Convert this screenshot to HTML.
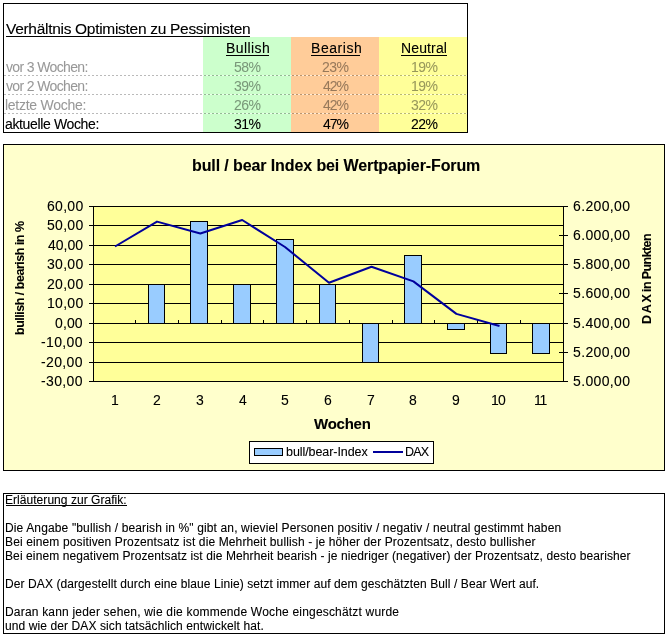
<!DOCTYPE html>
<html>
<head>
<meta charset="utf-8">
<title>bull / bear Index</title>
<style>
html,body{margin:0;padding:0;background:#fff;}
body{width:669px;height:637px;position:relative;overflow:hidden;font-family:"Liberation Sans",Arial,sans-serif;}
svg{position:absolute;left:0;top:0;display:block;}
</style>
</head>
<body>
<svg width="669" height="637" viewBox="0 0 669 637" font-family="Liberation Sans, Arial, sans-serif">
<defs>
<pattern id="dash" x="0" y="0" width="4" height="1" patternUnits="userSpaceOnUse">
<rect x="0" y="0" width="2" height="1" fill="#000" fill-opacity="0.27"/><rect x="2" y="0" width="2" height="1" fill="#fff" fill-opacity="0.6"/>
</pattern>
<filter id="crisp" color-interpolation-filters="sRGB">
<feComponentTransfer><feFuncA type="gamma" amplitude="1" exponent="0.8" offset="0"/></feComponentTransfer>
</filter>
</defs>
<!-- Verhaeltnis table -->
<g shape-rendering="crispEdges">
<rect x="203" y="37" width="88" height="95" fill="#ccffcc"/>
<rect x="291" y="37" width="88" height="95" fill="#ffcc99"/>
<rect x="379" y="37" width="88" height="95" fill="#ffff99"/>
<rect x="4" y="75" width="463" height="1" fill="url(#dash)"/>
<rect x="4" y="94" width="463" height="1" fill="url(#dash)"/>
<rect x="4" y="113" width="463" height="1" fill="url(#dash)"/>
<rect x="3.5" y="3.5" width="464" height="129" fill="none" stroke="#000" stroke-width="1"/>
<rect x="6" y="36" width="244" height="1" fill="#000"/>
<rect x="226" y="55" width="43" height="1" fill="#000"/>
<rect x="311" y="55" width="49" height="1" fill="#000"/>
<rect x="401" y="55" width="46" height="1" fill="#000"/>
</g>
<!-- chart -->
<g shape-rendering="crispEdges">
<rect x="3.5" y="144.5" width="661" height="326" fill="#ffffcc" stroke="#000" stroke-width="1"/>
<rect x="93" y="206" width="470" height="175" fill="#ffff99"/>
</g>
<g stroke="#000" stroke-width="1" shape-rendering="crispEdges">
<line x1="89" y1="206.5" x2="568" y2="206.5"/>
<line x1="89" y1="225.5" x2="564" y2="225.5"/>
<line x1="89" y1="245.5" x2="564" y2="245.5"/>
<line x1="89" y1="264.5" x2="564" y2="264.5"/>
<line x1="89" y1="284.5" x2="564" y2="284.5"/>
<line x1="89" y1="303.5" x2="564" y2="303.5"/>
<line x1="89" y1="323.5" x2="564" y2="323.5"/>
<line x1="89" y1="342.5" x2="564" y2="342.5"/>
<line x1="89" y1="362.5" x2="564" y2="362.5"/>
<line x1="89" y1="381.5" x2="568" y2="381.5"/>
<line x1="93.5" y1="206" x2="93.5" y2="382"/>
<line x1="563.5" y1="206" x2="563.5" y2="382"/>
<line x1="559" y1="235.5" x2="568" y2="235.5"/>
<line x1="559" y1="264.5" x2="568" y2="264.5"/>
<line x1="559" y1="293.5" x2="568" y2="293.5"/>
<line x1="559" y1="323.5" x2="568" y2="323.5"/>
<line x1="559" y1="352.5" x2="568" y2="352.5"/>
</g>
<g fill="#99ccff" stroke="#000" stroke-width="1" shape-rendering="crispEdges">
<rect x="148.5" y="284.5" width="16" height="39"/>
<rect x="190.5" y="221.5" width="17" height="102"/>
<rect x="233.5" y="284.5" width="17" height="39"/>
<rect x="276.5" y="239.5" width="17" height="84"/>
<rect x="319.5" y="284.5" width="16" height="39"/>
<rect x="362.5" y="323.5" width="16" height="39"/>
<rect x="404.5" y="255.5" width="17" height="68"/>
<rect x="447.5" y="323.5" width="17" height="6"/>
<rect x="490.5" y="323.5" width="16" height="30"/>
<rect x="532.5" y="323.5" width="17" height="30"/>
</g>
<g stroke="#000" stroke-width="1" shape-rendering="crispEdges">
<line x1="135.5" y1="320" x2="135.5" y2="323"/>
<line x1="178.5" y1="320" x2="178.5" y2="323"/>
<line x1="221.5" y1="320" x2="221.5" y2="323"/>
<line x1="263.5" y1="320" x2="263.5" y2="323"/>
<line x1="306.5" y1="320" x2="306.5" y2="323"/>
<line x1="349.5" y1="320" x2="349.5" y2="323"/>
<line x1="392.5" y1="320" x2="392.5" y2="323"/>
<line x1="434.5" y1="320" x2="434.5" y2="323"/>
<line x1="477.5" y1="320" x2="477.5" y2="323"/>
<line x1="520.5" y1="320" x2="520.5" y2="323"/>
</g>
<polyline fill="none" stroke="#00009c" stroke-width="2" stroke-linejoin="round" points="115,246.5 157,221.6 200.3,233.5 242.2,220 285,247 329,282.8 371.5,266.8 413.4,281.4 456.4,313.9 499.5,326"/>
<g shape-rendering="crispEdges">
<rect x="249.5" y="441.5" width="184" height="22" fill="#fff" stroke="#000" stroke-width="1"/>
<rect x="254.5" y="448.5" width="28" height="7" fill="#99ccff" stroke="#000" stroke-width="1"/>
</g>
<line x1="373" y1="452" x2="403" y2="452" stroke="#00009c" stroke-width="2"/>
<!-- text box -->
<g shape-rendering="crispEdges">
<rect x="3.5" y="493.5" width="661" height="140" fill="none" stroke="#000" stroke-width="1"/>
<rect x="6" y="505" width="121" height="1" fill="#000"/>
</g>
<g filter="url(#crisp)">
<text x="6" y="34" font-size="15.5" fill="#000" letter-spacing="-0.297">Verhältnis Optimisten zu Pessimisten</text>
<text x="226" y="53" font-size="14" fill="#000" letter-spacing="0.405">Bullish</text>
<text x="311" y="53" font-size="14" fill="#000" letter-spacing="0.540">Bearish</text>
<text x="401" y="53" font-size="14" fill="#000" letter-spacing="0.135">Neutral</text>
<text x="6" y="72" font-size="14" fill-opacity="0.33" fill="#000" letter-spacing="-0.638">vor 3 Wochen:</text>
<text x="6" y="91" font-size="14" fill-opacity="0.33" fill="#000" letter-spacing="-0.638">vor 2 Wochen:</text>
<text x="5" y="110" font-size="14" fill-opacity="0.33" fill="#000" letter-spacing="-0.267">letzte Woche:</text>
<text x="5" y="129" font-size="14" fill="#000" letter-spacing="-0.357">aktuelle Woche:</text>
<text x="234" y="72" font-size="14" fill-opacity="0.33" fill="#000" letter-spacing="-0.500">58%</text>
<text x="322" y="72" font-size="14" fill-opacity="0.33" fill="#000" letter-spacing="-0.500">23%</text>
<text x="411" y="72" font-size="14" fill-opacity="0.33" fill="#000" letter-spacing="-0.500">19%</text>
<text x="234" y="91" font-size="14" fill-opacity="0.33" fill="#000" letter-spacing="-0.500">39%</text>
<text x="323" y="91" font-size="14" fill-opacity="0.33" fill="#000" letter-spacing="-1.000">42%</text>
<text x="411" y="91" font-size="14" fill-opacity="0.33" fill="#000" letter-spacing="-0.500">19%</text>
<text x="234" y="110" font-size="14" fill-opacity="0.33" fill="#000" letter-spacing="-0.500">26%</text>
<text x="323" y="110" font-size="14" fill-opacity="0.33" fill="#000" letter-spacing="-1.000">42%</text>
<text x="411" y="110" font-size="14" fill-opacity="0.33" fill="#000" letter-spacing="-0.500">32%</text>
<text x="234" y="129" font-size="14" fill="#000" letter-spacing="-0.500">31%</text>
<text x="323" y="129" font-size="14" fill="#000" letter-spacing="-1.000">47%</text>
<text x="411" y="129" font-size="14" fill="#000" letter-spacing="-0.500">22%</text>
<text x="192" y="171" font-size="16" font-weight="bold" fill="#000" letter-spacing="-0.104">bull / bear Index bei Wertpapier-Forum</text>
<text x="314" y="429" font-size="15" font-weight="bold" fill="#000" letter-spacing="-0.242">Wochen</text>
<text transform="translate(24,335) rotate(-90)" font-size="12.5" font-weight="bold" fill="#000" letter-spacing="-0.486">bullish / bearish in %</text>
<text transform="translate(650.5,324) rotate(-90)" font-size="12.5" font-weight="bold" fill="#000" letter-spacing="1.707">DAX</text>
<text transform="translate(650.5,292) rotate(-90)" font-size="12.5" font-weight="bold" fill="#000" letter-spacing="-0.588">in Punkten</text>
<text x="286" y="456" font-size="12.5" fill="#000" letter-spacing="-0.071">bull/bear-Index</text>
<text x="405" y="456" font-size="12.5" fill="#000" letter-spacing="-0.810">DAX</text>
<text x="47" y="211" font-size="14" fill="#000" letter-spacing="0.303">60,00</text>
<text x="47" y="230" font-size="14" fill="#000" letter-spacing="0.303">50,00</text>
<text x="48" y="250" font-size="14" fill="#000" letter-spacing="0.025">40,00</text>
<text x="47" y="269" font-size="14" fill="#000" letter-spacing="0.303">30,00</text>
<text x="47" y="289" font-size="14" fill="#000" letter-spacing="0.303">20,00</text>
<text x="47" y="308" font-size="14" fill="#000" letter-spacing="0.303">10,00</text>
<text x="55" y="328" font-size="14" fill="#000" letter-spacing="0.100">0,00</text>
<text x="41" y="347" font-size="14" fill="#000" letter-spacing="0.361">-10,00</text>
<text x="41" y="367" font-size="14" fill="#000" letter-spacing="0.361">-20,00</text>
<text x="41" y="386" font-size="14" fill="#000" letter-spacing="0.361">-30,00</text>
<text x="573" y="211" font-size="14" fill="#000" letter-spacing="0.366">6.200,00</text>
<text x="573" y="240" font-size="14" fill="#000" letter-spacing="0.366">6.000,00</text>
<text x="573" y="269" font-size="14" fill="#000" letter-spacing="0.366">5.800,00</text>
<text x="573" y="298" font-size="14" fill="#000" letter-spacing="0.366">5.600,00</text>
<text x="573" y="328" font-size="14" fill="#000" letter-spacing="0.366">5.400,00</text>
<text x="573" y="357" font-size="14" fill="#000" letter-spacing="0.366">5.200,00</text>
<text x="573" y="386" font-size="14" fill="#000" letter-spacing="0.366">5.000,00</text>
<text x="111" y="405" font-size="14" fill="#000" letter-spacing="0.000">1</text>
<text x="153" y="405" font-size="14" fill="#000" letter-spacing="0.000">2</text>
<text x="196" y="405" font-size="14" fill="#000" letter-spacing="0.000">3</text>
<text x="239" y="405" font-size="14" fill="#000" letter-spacing="0.000">4</text>
<text x="281" y="405" font-size="14" fill="#000" letter-spacing="0.000">5</text>
<text x="324" y="405" font-size="14" fill="#000" letter-spacing="0.000">6</text>
<text x="367" y="405" font-size="14" fill="#000" letter-spacing="0.000">7</text>
<text x="409" y="405" font-size="14" fill="#000" letter-spacing="0.000">8</text>
<text x="452" y="405" font-size="14" fill="#000" letter-spacing="0.000">9</text>
<text x="491" y="405" font-size="14" fill="#000" letter-spacing="-0.810">10</text>
<text x="534" y="405" font-size="14" fill="#000" letter-spacing="-1.210">11</text>
<text x="5" y="504" font-size="12" fill="#000" letter-spacing="0.045">Erläuterung zur Grafik:</text>
<text x="5" y="532" font-size="12" fill="#000" letter-spacing="0.136">Die Angabe &quot;bullish / bearish in %&quot; gibt an, wieviel Personen positiv / negativ / neutral gestimmt haben</text>
<text x="5" y="546" font-size="12" fill="#000" letter-spacing="0.123">Bei einem positiven Prozentsatz ist die Mehrheit bullish - je höher der Prozentsatz, desto bullisher</text>
<text x="5" y="560" font-size="12" fill="#000" letter-spacing="0.104">Bei einem negativem Prozentsatz ist die Mehrheit bearish - je niedriger (negativer) der Prozentsatz, desto bearisher</text>
<text x="5" y="588" font-size="12" fill="#000" letter-spacing="0.091">Der DAX (dargestellt durch eine blaue Linie) setzt immer auf dem geschätzten Bull / Bear Wert auf.</text>
<text x="5" y="616" font-size="12" fill="#000" letter-spacing="0.188">Daran kann jeder sehen, wie die kommende Woche eingeschätzt wurde</text>
<text x="5" y="630" font-size="12" fill="#000" letter-spacing="0.098">und wie der DAX sich tatsächlich entwickelt hat.</text>
</g>
</svg>
</body>
</html>
